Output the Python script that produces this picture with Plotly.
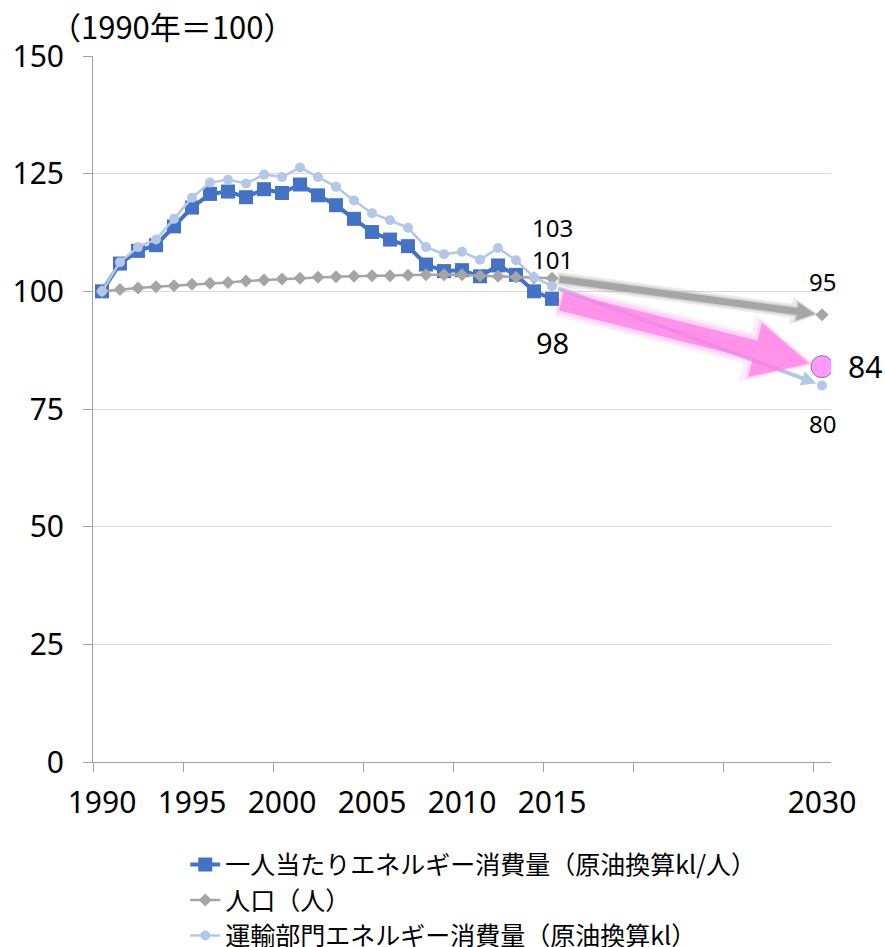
import plotly.graph_objects as go

# ---------------- data ----------------
years = list(range(1990, 2016))
per_capita = [100, 105.9, 108.6, 109.8, 113.8, 117.8, 120.7, 121.2, 120.0, 121.7,
              120.9, 122.7, 120.4, 118.3, 115.4, 112.6, 111.0, 109.6, 105.7, 104.3,
              104.5, 103.2, 105.5, 103.5, 100.0, 98.4]
population = [100, 100.4, 100.7, 101.0, 101.2, 101.5, 101.7, 101.9, 102.2, 102.4,
              102.6, 102.8, 103.0, 103.1, 103.2, 103.3, 103.3, 103.4, 103.5, 103.5,
              103.5, 103.3, 103.2, 103.0, 102.9, 102.8]
transport = [100, 106.2, 109.4, 111.0, 115.4, 119.9, 123.1, 123.7, 122.9, 124.8,
             124.3, 126.3, 124.3, 122.2, 119.3, 116.6, 115.1, 113.5, 109.4, 107.9,
             108.4, 106.7, 109.2, 106.6, 103.0, 101.1]
target_year = 2030
per_capita_target = 84
population_target = 95
transport_target = 80

tick_years = [1990, 1995, 2000, 2005, 2010, 2015, 2030]
y_ticks = [0, 25, 50, 75, 100, 125, 150]
series_names = ["一人当たりエネルギー消費量（原油換算kl/人）", "人口（人）",
                "運輸部門エネルギー消費量（原油換算kl）"]
unit_title = "（1990年＝100）"

# ---------------- styles ----------------
BLUE = "#4472C4"
GRAY = "#A5A5A5"
LBLUE = "#B4C7E7"
PINK = "#FF99FF"
AXIS = "#A0A0A0"
GRID = "#D9D9D9"
FONT = "Noto Sans, Noto Sans CJK JP, sans-serif"
CJK = "Noto Sans CJK JP, Noto Sans, sans-serif"

fig = go.Figure()
fig.add_trace(go.Scatter(x=years, y=per_capita, name=series_names[0], mode="lines+markers",
                         line=dict(color=BLUE, width=4),
                         marker=dict(symbol="square", size=14, color=BLUE)))
fig.add_trace(go.Scatter(x=years, y=population, name=series_names[1], mode="lines+markers",
                         line=dict(color=GRAY, width=2.5),
                         marker=dict(symbol="diamond", size=10, color=GRAY)))
fig.add_trace(go.Scatter(x=years, y=transport, name=series_names[2], mode="lines+markers",
                         line=dict(color=LBLUE, width=2.5),
                         marker=dict(symbol="circle", size=10, color=LBLUE)))
# 2030 targets
fig.add_trace(go.Scatter(x=[target_year], y=[population_target], mode="markers", showlegend=False,
                         marker=dict(symbol="diamond", size=10, color=GRAY)))
fig.add_trace(go.Scatter(x=[target_year], y=[transport_target], mode="markers", showlegend=False,
                         marker=dict(symbol="circle", size=10, color=LBLUE)))
fig.add_trace(go.Scatter(x=[target_year], y=[per_capita_target], mode="markers", showlegend=False,
                         marker=dict(symbol="circle", size=22, color=PINK,
                                     line=dict(color="#7F7F7F", width=1))))

HEAD_UNITS = 5.0  # arrowhead 2 path is 5 units long/wide


def arrow(x0, y0, x1, y1, color, width, head, standoff=0, startstandoff=0):
    common = dict(x=x1, y=y1, ax=x0, ay=y0, xref="x", yref="y", axref="x", ayref="y",
                  text="", showarrow=True, arrowcolor=color, startstandoff=startstandoff)
    shaft = dict(common, arrowhead=0, arrowwidth=width, standoff=standoff + head - 0.5)
    hw = 0.5
    tip = dict(common, arrowhead=2, arrowwidth=hw, arrowsize=head / (HEAD_UNITS * hw),
               standoff=standoff)
    return [shaft, tip]


anns = []
# light blue arrow (transport)
anns += arrow(years[-1], transport[-1], target_year, transport_target,
              LBLUE, 4, 15, standoff=6, startstandoff=5)
# gray arrow (population) with soft glow
anns += arrow(years[-1], population[-1], target_year, population_target,
              "rgba(150,150,150,0.18)", 14, 28, standoff=3, startstandoff=3)
anns += arrow(years[-1], population[-1], target_year, population_target,
              "rgba(150,150,150,0.25)", 10, 22, standoff=5, startstandoff=5)
anns += arrow(years[-1], population[-1], target_year, population_target,
              "#A6A6A6", 7, 18, standoff=7, startstandoff=6)
# pink arrow (per capita) with soft glow
anns += arrow(years[-1], per_capita[-1], target_year, per_capita_target,
              "rgba(255,130,230,0.14)", 32, 70, standoff=7, startstandoff=5)
anns += arrow(years[-1], per_capita[-1], target_year, per_capita_target,
              "rgba(255,130,230,0.2)", 26, 62, standoff=10, startstandoff=6)
anns += arrow(years[-1], per_capita[-1], target_year, per_capita_target,
              "rgba(255,125,230,0.75)", 19, 56, standoff=13, startstandoff=8)


# value labels
def label(x, y, size, xshift=0, yshift=0):
    return dict(x=x, y=y, xref="x", yref="y", text=f"{round(y)}", showarrow=False,
                xshift=xshift, yshift=yshift, borderpad=0,
                font=dict(family=FONT, size=size, color="black"))


anns += [
    label(years[-1], population[-1], 24, yshift=51),
    label(years[-1], transport[-1], 24, yshift=27),
    label(years[-1], per_capita[-1], 29, yshift=-44),
    label(target_year, population_target, 24, yshift=33),
    label(target_year, per_capita_target, 30, xshift=43, yshift=0),
    label(target_year, transport_target, 24, yshift=-38),
]
anns.append(dict(x=0.107, y=1.043, xref="paper", yref="paper", text=unit_title,
                 showarrow=False, xanchor="center", yanchor="middle", borderpad=0,
                 font=dict(family=CJK, size=31, color="black")))

fig.update_layout(
    width=885, height=947,
    margin=dict(l=93, r=54, t=56, b=185, autoexpand=False),
    paper_bgcolor="white", plot_bgcolor="white",
    font=dict(family=FONT, color="black"),
    annotations=anns,
    showlegend=True,
    legend=dict(x=0.125, y=-0.113, xanchor="left", yanchor="top",
                font=dict(family=CJK, size=25, color="black"),
                bgcolor="rgba(0,0,0,0)", tracegroupgap=0),
    xaxis=dict(range=[1989.5, 2030.5], tickmode="array", tickvals=tick_years,
               ticktext=[str(t) for t in tick_years], ticks="", showgrid=False,
               showline=True, linecolor=AXIS, linewidth=1, zeroline=False,
               tickfont=dict(family=FONT, size=30, color="black"),
               ticklabelstandoff=14,
               minor=dict(tickmode="array",
                          tickvals=[1989.5 + 5 * k for k in range(9)],
                          ticks="outside", ticklen=9, tickcolor=AXIS, tickwidth=1,
                          showgrid=False)),
    yaxis=dict(range=[0, 150], tickmode="array", tickvals=y_ticks, ticks="outside",
               ticklen=9, tickcolor=AXIS, showline=True, linecolor=AXIS, linewidth=1,
               showgrid=True, gridcolor=GRID, gridwidth=1, zeroline=False,
               tickfont=dict(family=FONT, size=30, color="black"),
               ticklabelstandoff=13),
)

fig.write_html("out.html",
               config={"displayModeBar": False},
               post_script="document.body.style.margin='0';"
                           "document.body.style.overflow='hidden';")
